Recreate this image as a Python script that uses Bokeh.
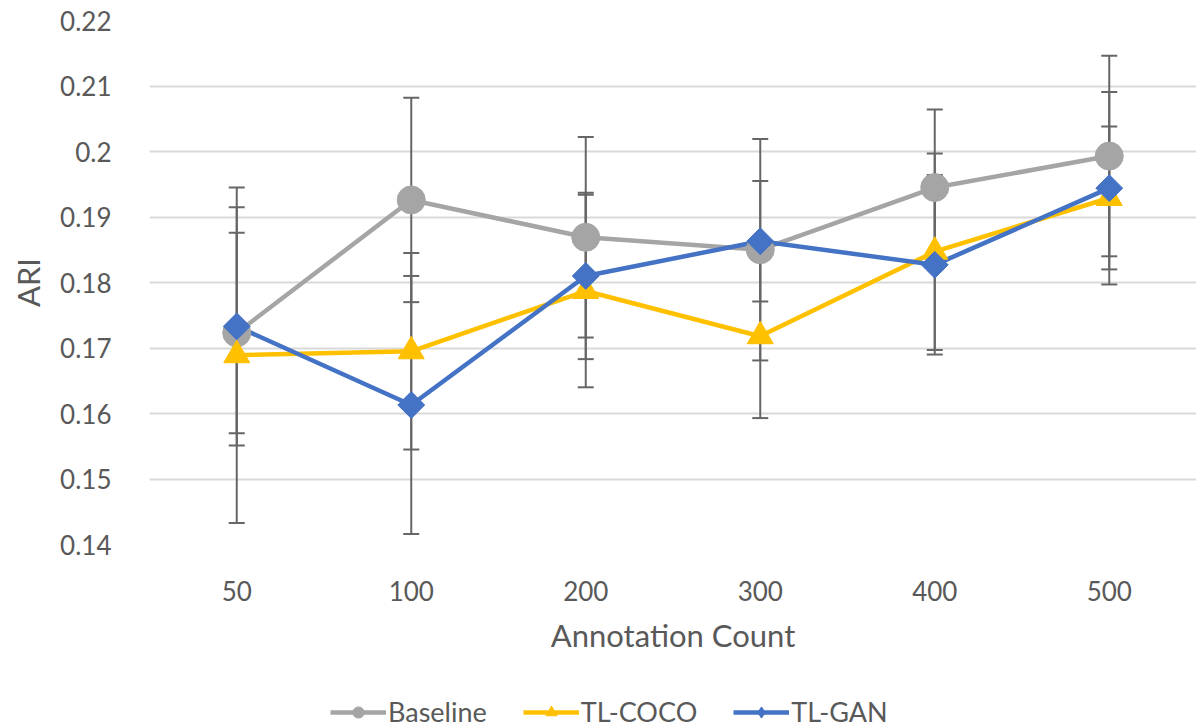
import math
from bokeh.plotting import figure
from bokeh.layouts import column
from bokeh.models import (ColumnDataSource, Whisker, TeeHead, Legend, LegendItem,
                          FixedTicker, CustomJSTickFormatter, FactorRange, Range1d)
from bokeh.embed import file_html
from bokeh.resources import INLINE

# ---- data ----
counts = ["50", "100", "200", "300", "400", "500"]
baseline = [0.1723, 0.1926, 0.1869, 0.1850, 0.1945, 0.1993]
baseline_err = [0.0153, 0.0156, 0.0153, 0.0169, 0.0119, 0.0153]
tl_coco = [0.1689, 0.1695, 0.1787, 0.1718, 0.1847, 0.1929]
tl_coco_err = [0.0256, 0.0150, 0.0147, 0.0125, 0.0150, 0.0109]
tl_gan = [0.1733, 0.1613, 0.1810, 0.1863, 0.1827, 0.1944]
tl_gan_err = [0.0182, 0.0197, 0.0127, 0.0092, 0.0137, 0.0147]
y_ticks = [0.14, 0.15, 0.16, 0.17, 0.18, 0.19, 0.20, 0.21, 0.22]
series_names = ["Baseline", "TL-COCO", "TL-GAN"]

FONT = "Lato"
TXT = "#595959"
ERR = "#666666"

p = figure(width=1196, height=690, output_backend="svg", toolbar_location=None,
           x_range=FactorRange(*counts, range_padding=0),
           y_range=Range1d(0.14, 0.22),
           min_border_left=149, min_border_right=0, min_border_top=20,
           min_border_bottom=146)
p.outline_line_color = None
p.background_fill_color = "white"
p.border_fill_color = "white"

series = [
    (series_names[0], baseline, baseline_err, "#A5A5A5", "circle", 28, 0.0, "circle"),
    (series_names[1], tl_coco, tl_coco_err, "#FFC000", "triangle", 26, 0.0, "triangle"),
    (series_names[2], tl_gan, tl_gan_err, "#4472C4", "square", 19, math.pi / 4, "diamond"),
]

for name, vals, errs, color, marker, size, ang, lm in series:
    src = ColumnDataSource(dict(
        x=counts, y=vals,
        upper=[v + e for v, e in zip(vals, errs)],
        lower=[v - e for v, e in zip(vals, errs)]))
    w = Whisker(base="x", upper="upper", lower="lower", source=src,
                line_color=ERR, line_width=2,
                upper_head=TeeHead(size=16, line_color=ERR, line_width=2),
                lower_head=TeeHead(size=16, line_color=ERR, line_width=2),
                level="underlay")
    p.add_layout(w)

srcs = []
for name, vals, errs, color, marker, size, ang, lm in series:
    src = ColumnDataSource(dict(x=counts, y=vals))
    p.line("x", "y", source=src, line_color=color, line_width=4.5)
    srcs.append(src)
for (name, vals, errs, color, marker, size, ang, lm), src in zip(series, srcs):
    p.scatter("x", "y", source=src, marker=marker, size=size, angle=ang,
              fill_color=color, line_color=color)

# axes
p.yaxis.ticker = FixedTicker(ticks=y_ticks)
p.yaxis.formatter = CustomJSTickFormatter(code="return tick.toFixed(2).replace(/0$/, '');")
for ax in (p.xaxis[0], p.yaxis[0]):
    ax.axis_line_color = None
    ax.major_tick_line_color = None
    ax.minor_tick_line_color = None
    ax.major_label_text_font = FONT
    ax.major_label_text_color = TXT
    ax.major_label_text_font_size = "26px"
    ax.axis_label_text_font = FONT
    ax.axis_label_text_color = TXT
    ax.axis_label_text_font_size = "31px"
    ax.axis_label_text_font_style = "normal"
p.yaxis.major_label_standoff = 32
p.yaxis.axis_label = "ARI"
p.yaxis.axis_label_standoff = 10
p.xaxis.axis_label = "Annotation Count"
p.xaxis.major_label_standoff = 30
p.xaxis.axis_label_standoff = 12
p.xgrid.grid_line_color = None
p.ygrid.grid_line_color = "#D9D9D9"
p.ygrid.grid_line_width = 2

# legend strip
lg = figure(width=1196, height=38, output_backend="svg", toolbar_location=None,
            x_range=Range1d(0, 1), y_range=Range1d(0, 1),
            x_axis_location=None, y_axis_location=None,
            min_border_left=0, min_border_right=0, min_border_top=0,
            min_border_bottom=0, outline_line_color=None)
lg.grid.visible = False
items = []
for name, vals, errs, color, marker, size, ang, lm in series:
    l = lg.line(x=[5, 6], y=[5, 6], line_color=color, line_width=4.5)
    s = lg.scatter(x=[5], y=[5], marker=lm, fill_color=color, line_color=color)
    items.append(LegendItem(label=name, renderers=[l, s]))
legend = Legend(items=items, orientation="horizontal", location=(181, 0),
                label_text_font=FONT, label_text_color=TXT,
                label_text_font_size="27px", glyph_width=56, glyph_height=28,
                label_standoff=2, spacing=36, border_line_color=None,
                background_fill_alpha=0, margin=0, padding=0)
lg.add_layout(legend, "center")

layout = column(p, lg, spacing=0)
open("out.html", "w").write(file_html(layout, INLINE))
